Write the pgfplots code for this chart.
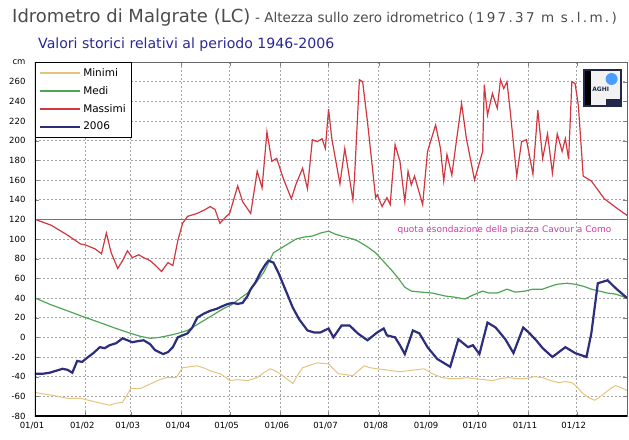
\documentclass[border=0pt]{standalone}
\usepackage{pgfplots}
\pgfplotsset{compat=1.18}
\usepackage{fontspec}
\setmainfont{DejaVu Sans}
\definecolor{minc}{RGB}{228,196,128}
\definecolor{medc}{RGB}{80,165,85}
\definecolor{maxc}{RGB}{210,55,65}
\definecolor{c2006}{RGB}{45,45,125}
\definecolor{magc}{RGB}{205,60,170}
\definecolor{titc}{RGB}{75,75,75}
\definecolor{subc}{RGB}{40,40,150}
\definecolor{logoc}{RGB}{35,40,75}
\definecolor{gridc}{RGB}{165,165,165}
\begin{document}
\begin{tikzpicture}
\path (0pt,0pt) rectangle (629pt,439pt);
\node[anchor=base west, inner sep=0, text=titc, font=\fontsize{18}{20}\selectfont] (t1) at (12pt,416pt) {Idrometro di Malgrate (LC)};
\node[anchor=base west, inner sep=0, text=titc, font=\fontsize{13.5}{15}\selectfont] (t2) at (t1.base east) {\ -\ Altezza sullo zero idrometrico\ };
\node[anchor=base west, inner sep=0, text=titc, font=\fontsize{13.5}{14}\selectfont\addfontfeature{LetterSpace=17}] at ([xshift=4pt]t2.base east) {(197.37 m s.l.m.)};
\node[anchor=base west, inner sep=0, text=subc, font=\fontsize{14.1}{15}\selectfont] at (38pt,390pt) {Valori storici relativi al periodo 1946-2006};
\begin{axis}[
  at={(35pt,23pt)}, anchor=south west,
  scale only axis, width=592pt, height=354pt,
  xmin=0, xmax=365, ymin=-80, ymax=280,
  xtick={0,31,59,90,120,151,181,212,243,273,304,334},
  xticklabels={01/01,01/02,01/03,01/04,01/05,01/06,01/07,01/08,01/09,01/10,01/11,01/12},
  ytick={-80,-60,-40,-20,0,20,40,60,80,100,120,140,160,180,200,220,240,260,280},
  yticklabels={-80,-60,-40,-20,0,20,40,60,80,100,120,140,160,180,200,220,240,260,cm},
  grid=major,
  grid style={color=gridc, line width=0.75pt, dash pattern=on 2pt off 2pt},
  ticklabel style={font=\fontsize{8.5}{10}\selectfont},
  yticklabel style={xshift=-6pt},
  xticklabel style={yshift=-3pt, xshift=-3pt},
  axis line style={gray!80!black, line width=0.8pt},
  legend cell align=left,
  legend style={at={(0,1)}, anchor=north west, draw=black, line width=0.9pt,
    font=\fontsize{10.5}{12}\selectfont, row sep=4.4pt, inner xsep=4pt, inner ysep=4pt},
  legend image code/.code={\draw[#1, line width=1.8pt] (0pt,0pt) -- (40pt,0pt);},
]
\addplot[minc, line width=1pt] coordinates {
(0,-56)(3,-57)(11,-59)(20,-62)(28,-62)(33,-64)(38,-66)(46,-69)(50,-67)(54,-66)(57,-58)(59,-52)(65,-52)(69,-49)(73,-46)(77,-43)(81,-41)(87,-41)(89,-36)(91,-31)(95,-30)(100,-29)(104,-31)(108,-34)(114,-37)(117,-40)(120,-44)(125,-43)(131,-44)(137,-41)(141,-36)(145,-32)(148,-34)(151,-37)(155,-42)(159,-47)(162,-38)(165,-31)(170,-28)(174,-26)(181,-27)(184,-32)(187,-37)(192,-38)(196,-39)(200,-33)(203,-29)(207,-31)(211,-32)(216,-33)(220,-34)(225,-35)(230,-34)(235,-33)(240,-32)(245,-37)(251,-41)(256,-42)(261,-42)(266,-41)(271,-42)(277,-43)(282,-44)(287,-42)(292,-41)(297,-42)(302,-42)(308,-40)(313,-41)(318,-44)(323,-46)(327,-45)(331,-46)(334,-50)(337,-56)(341,-61)(345,-64)(348,-61)(351,-57)(355,-52)(358,-49)(361,-51)(365,-54)};
\addlegendentry{Minimi\hspace{22pt}}
\addplot[medc, line width=1.2pt] coordinates {
(0,40)(10,33)(20,27)(28,22)(40,15)(50,9)(59,4)(65,1)(71,-1)(77,0)(83,2)(88,4)(94,7)(99,12)(104,17)(110,23)(116,29)(121,33)(126,39)(131,45)(136,55)(141,66)(144,76)(147,86)(151,90)(156,95)(161,100)(166,102)(171,103)(176,106)(181,108)(185,105)(189,103)(196,100)(199,98)(205,92)(210,86)(215,77)(220,68)(224,60)(228,51)(232,47)(238,46)(245,45)(253,42)(258,41)(265,39)(270,43)(276,47)(280,45)(285,45)(291,49)(296,46)(302,47)(307,49)(313,49)(318,52)(322,54)(328,55)(333,54)(338,52)(343,49)(348,47)(353,45)(358,44)(365,40)};
\addlegendentry{Medi}
\addplot[maxc, line width=1.2pt] coordinates {
(0,120)(10,114)(20,104)(28,95)(31,94)(37,90)(41,85)(44,106)(47,86)(51,70)(54,78)(57,88)(60,81)(64,84)(67,81)(71,78)(75,72)(78,67)(82,76)(85,73)(88,98)(91,116)(94,123)(100,126)(105,130)(108,133)(111,130)(114,116)(118,123)(120,126)(125,154)(128,138)(133,126)(137,169)(140,152)(143,209)(146,179)(149,182)(153,162)(158,141)(161,156)(165,172)(168,151)(171,201)(174,199)(177,202)(179,192)(181,232)(183,202)(188,156)(191,192)(196,140)(197,162)(200,262)(202,260)(205,219)(210,142)(211,145)(214,133)(217,142)(219,135)(222,196)(225,179)(228,138)(230,169)(232,155)(234,164)(239,135)(242,189)(247,216)(250,192)(252,159)(254,186)(257,165)(260,202)(263,238)(266,202)(271,160)(276,189)(277,257)(279,226)(282,248)(285,233)(287,262)(289,253)(291,260)(293,230)(297,164)(300,199)(303,201)(307,166)(310,231)(313,182)(316,207)(319,167)(322,207)(325,189)(327,202)(329,181)(331,260)(333,258)(335,236)(338,164)(343,159)(351,141)(359,131)(365,124)};
\addlegendentry{Massimi}
\addplot[c2006, line width=2.2pt] coordinates {
(0,-37)(5,-37)(9,-36)(13,-34)(17,-32)(20,-33)(23,-36)(26,-24)(29,-25)(32,-21)(36,-16)(40,-10)(43,-11)(46,-8)(50,-6)(54,-1)(57,-3)(60,-5)(63,-4)(67,-3)(71,-7)(74,-13)(79,-17)(82,-15)(85,-10)(88,0)(91,2)(94,4)(97,10)(100,20)(104,24)(108,27)(112,29)(116,32)(119,34)(122,35)(125,34)(128,35)(131,42)(133,49)(136,56)(139,66)(142,74)(144,78)(147,76)(150,66)(153,54)(156,42)(159,30)(163,18)(168,7)(172,5)(176,5)(181,9)(184,0)(189,12)(194,12)(199,4)(205,-3)(211,5)(215,9)(217,2)(222,0)(225,-8)(228,-17)(233,7)(237,4)(242,-10)(248,-22)(252,-26)(256,-30)(261,-2)(264,-6)(267,-10)(270,-8)(274,-17)(279,15)(284,10)(290,-2)(295,-16)(301,10)(305,4)(309,-3)(313,-11)(319,-20)(323,-15)(327,-10)(333,-16)(340,-20)(343,4)(347,55)(353,58)(358,50)(365,40)};
\addlegendentry{2006}
\addplot[magc, line width=1.3pt, forget plot] coordinates {(0,120)(365,120)};
\node[anchor=north east, inner sep=0, text=magc, font=\fontsize{9}{10}\selectfont] at (axis cs:355.5,114) {quota esondazione della piazza Cavour a Como};
\draw[black, line width=2pt] (rel axis cs:0,1) -- (rel axis cs:0,0) -- (rel axis cs:1,0);
\node[draw=logoc, line width=1.5pt, fill=gray!10, minimum width=37pt, minimum height=36pt, inner sep=0] (logo) at (axis cs:349.8,253.8) {};
\fill[black] ([xshift=2pt,yshift=2pt]logo.south west) rectangle ([xshift=8pt,yshift=-2pt]logo.north west);
\fill[blue!55!cyan!70] ([xshift=-10pt,yshift=-10pt]logo.north east) circle (6pt);
\node[anchor=west, inner sep=0, font=\bfseries\fontsize{6}{7}\selectfont, text=logoc] at ([xshift=9pt,yshift=-2pt]logo.west) {AGHI};
\fill[logoc] ([xshift=-16pt,yshift=2pt]logo.south east) rectangle ([xshift=-2pt,yshift=8pt]logo.south east);
\end{axis}
\end{tikzpicture}
\end{document}
